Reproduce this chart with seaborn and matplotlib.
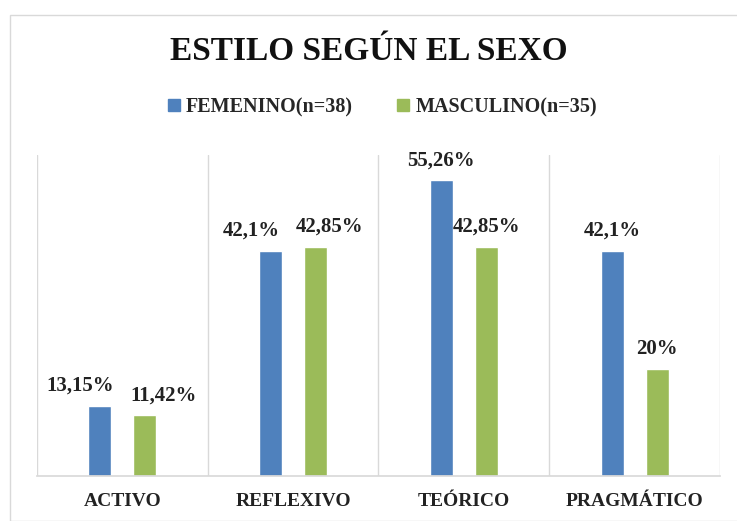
import matplotlib
matplotlib.use("Agg")
import matplotlib.pyplot as plt
import seaborn as sns
import pandas as pd
from matplotlib.patches import Rectangle, Patch

estilos = ["ACTIVO", "REFLEXIVO", "TEÓRICO", "PRAGMÁTICO"]
grupos = ["FEMENINO(n=38)", "MASCULINO(n=35)"]
femenino = [13.15, 42.1, 55.26, 42.1]
masculino = [11.42, 42.85, 42.85, 20]

# desplazamiento horizontal de las etiquetas (px), como en el original
desp_fem = [-20, -19, 0, 0]
desp_mas = [19, 14, 0, 0]

df = pd.DataFrame({
    "estilo": estilos * 2,
    "sexo": [grupos[0]] * 4 + [grupos[1]] * 4,
    "pct": femenino + masculino,
})

sns.set_theme(style="white")
plt.rcParams["font.family"] = ["Liberation Serif", "DejaVu Serif"]

fig = plt.figure(figsize=(7.37, 5.21), dpi=100)
ax = fig.add_axes([0.050, 0.0864, 0.927, 0.6163])

# marco del grafico
fig.patches.append(Rectangle((10 / 737, 0), 1.2, 1 - 15 / 521, transform=fig.transFigure,
                             fill=False, edgecolor="#D9D9D9", lw=1))

sns.barplot(data=df, x="estilo", y="pct", hue="sexo", order=estilos, hue_order=grupos,
            palette=["#4F81BD", "#9BBB59"], width=0.526, gap=0.487, ax=ax,
            legend=False, saturation=1)

for cont, desp in zip(ax.containers, [desp_fem, desp_mas]):
    for bar, v, dx in zip(cont, cont.datavalues, desp):
        lab = f"{v:g}".replace(".", ",") + "%"
        ax.annotate(lab, (bar.get_x() + bar.get_width() / 2, bar.get_height()),
                    xytext=(dx * 0.72, 7), textcoords="offset points",
                    ha="center", va="bottom", fontsize=15, fontweight="bold",
                    color="#222222")

for x in [-0.5, 0.5, 1.5, 2.5, 3.5]:
    ax.axvline(x, color="#D9D9D9", lw=1, zorder=0)

ax.set_xlim(-0.5, 3.5)
ax.set_ylim(0, 60)
ax.set_yticks([])
ax.set_xlabel("")
ax.set_ylabel("")
for s in ["top", "left", "right"]:
    ax.spines[s].set_visible(False)
ax.spines["bottom"].set_color("#D9D9D9")
ax.tick_params(axis="x", length=0, pad=12)
for t in ax.get_xticklabels():
    t.set_fontsize(14)
    t.set_fontweight("bold")
    t.set_color("#222222")

fig.text(0.5, 1 - 52 / 521, "ESTILO SEGÚN EL SEXO", ha="center", va="center",
         fontsize=24, fontweight="bold", color="#111111")

# leyenda
handles = [Patch(color="#4F81BD"), Patch(color="#9BBB59")]
fig.legend(handles, grupos, loc="center", bbox_to_anchor=(0.519, 1 - 107 / 521), ncol=2,
           frameon=False, handlelength=0.6, handleheight=0.6, handletextpad=0.3,
           columnspacing=2.2, prop={"size": 14.5, "weight": "bold"})

fig.savefig("out.png", dpi=100)
